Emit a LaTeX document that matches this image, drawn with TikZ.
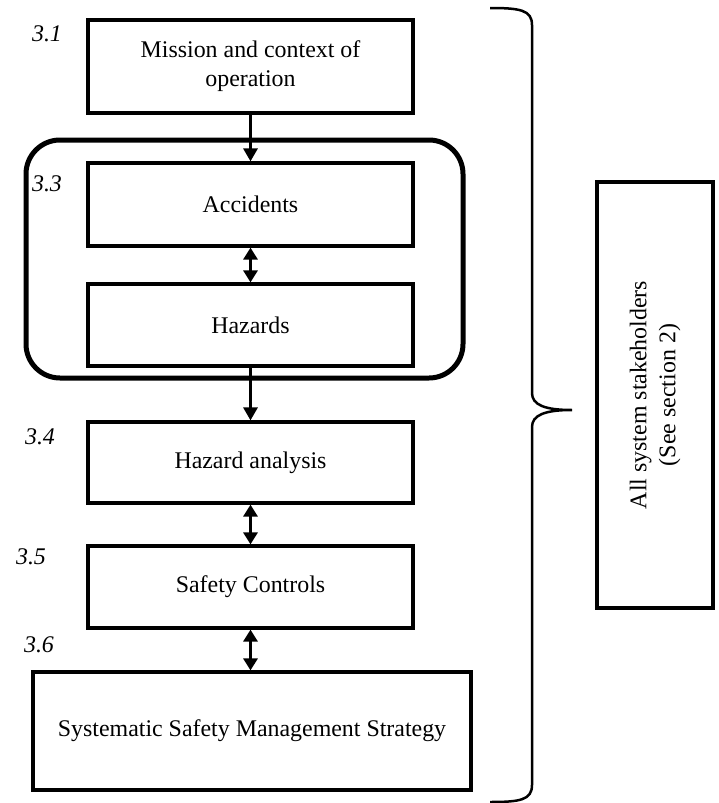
\documentclass[tikz,border=0pt]{standalone}
\usepackage{fontspec}
\setmainfont{Liberation Serif}
\usetikzlibrary{arrows.meta}
\tikzset{
  stage/.style={draw, line width=1.6pt, minimum width=162.5pt, inner sep=0pt, align=center, font=\fontsize{11.95}{14.5}\selectfont},
  num/.style={font=\fontsize{11.95}{14.5}\selectfont\itshape},
  flow/.style={line width=1.5pt, -{Triangle[length=6.5pt,width=7pt]}},
  twoway/.style={line width=1.5pt, {Triangle[length=6pt,width=7pt]}-{Triangle[length=6pt,width=7pt]}},
}

\begin{document}
\begin{tikzpicture}[x=0.5pt, y=-0.5pt]
        \useasboundingbox (0,0) rectangle (718,803);
        \draw[line width=2.5pt, rounded corners=17pt] (26,140) rectangle (463,378);
        \node[stage, minimum height=46.5pt] (mission) at (250.5,66.5) {Mission and context of\\operation};
        \node[stage, minimum height=41.5pt] (accidents) at (250.5,204.5) {Accidents};
        \node[stage, minimum height=41pt] (hazards) at (250.5,325) {Hazards};
        \node[stage, minimum height=40.5pt] (analysis) at (250.5,462.5) {Hazard analysis};
        \node[stage, minimum height=41pt] (controls) at (250.5,587) {Safety Controls};
        \node[stage, minimum width=219pt, minimum height=59pt] (strategy) at (252,731) {Systematic Safety Management Strategy};
        \node[num] (n31) at (47,34) {3.1};
        \node[num] (n33) at (47,184) {3.3};
        \node[num] (n34) at (40,437) {3.4};
        \node[num] (n35) at (31,557) {3.5};
        \node[num] (n36) at (39,645) {3.6};
        \draw[flow] (mission) -- (accidents);
        \draw[twoway] (accidents) -- (hazards);
        \draw[flow] (hazards) -- (analysis);
        \draw[twoway] (analysis) -- (controls);
        \draw[twoway] (controls.south) -- (controls.south |- strategy.north);
        % brace and stakeholders
        \draw[line width=1.25pt] (490,8) .. controls (520,8) and (532,10) .. (532,25) -- (532,393) .. controls (532,405) and (545,410) .. (572,410) .. controls (545,410) and (532,415) .. (532,427) -- (532,785) .. controls (532,800) and (520,802) .. (490,802);
        \node[stage, line width=2pt, rotate=90, minimum width=213pt, minimum height=58pt] (stakeholders) at (655,395) {All system stakeholders\\(See section 2)};
    \end{tikzpicture}
\end{document}
